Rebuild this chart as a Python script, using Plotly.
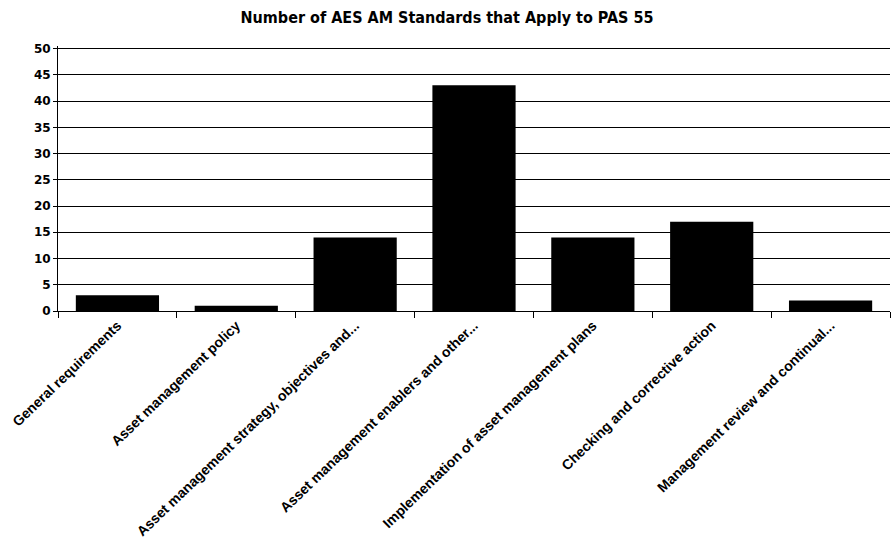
import plotly.graph_objects as go

categories = [
    "General requirements",
    "Asset management policy",
    "Asset management strategy, objectives and...",
    "Asset management enablers and other...",
    "Implementation of asset management plans",
    "Checking and corrective action",
    "Management review and continual...",
]
values = [3, 1, 14, 43, 14, 17, 2]
y_ticks = list(range(0, 51, 5))

fig = go.Figure(go.Bar(x=categories, y=values, marker=dict(color="black", line=dict(width=0)), width=0.7))

fig.update_layout(
    width=894, height=543,
    margin=dict(l=58, r=4, t=46, b=232),
    paper_bgcolor="white", plot_bgcolor="white",
    title=dict(text="<b>Number of AES AM Standards that Apply to PAS 55</b>", x=0.5, xanchor="center",
               y=1 - 17 / 543, yanchor="middle",
               font=dict(family="DejaVu Sans Condensed", size=16, color="black")),
    showlegend=False,
    bargap=0.3,
)
fig.update_yaxes(range=[0, 50.5], tickvals=y_ticks, showgrid=True, gridcolor="black", gridwidth=1,
                 showline=True, linecolor="black", linewidth=1, ticks="outside", ticklen=4, tickcolor="black",
                 tickfont=dict(family="DejaVu Sans", size=12, color="black", weight="bold"), zeroline=False)
fig.update_xaxes(showline=True, linecolor="black", linewidth=1, tickangle=-44,
                 ticks="outside", tickson="boundaries", ticklen=6, tickcolor="black",
                 tickfont=dict(family="Liberation Sans", size=14, color="black", weight="bold"))
fig.write_html("out.html")
